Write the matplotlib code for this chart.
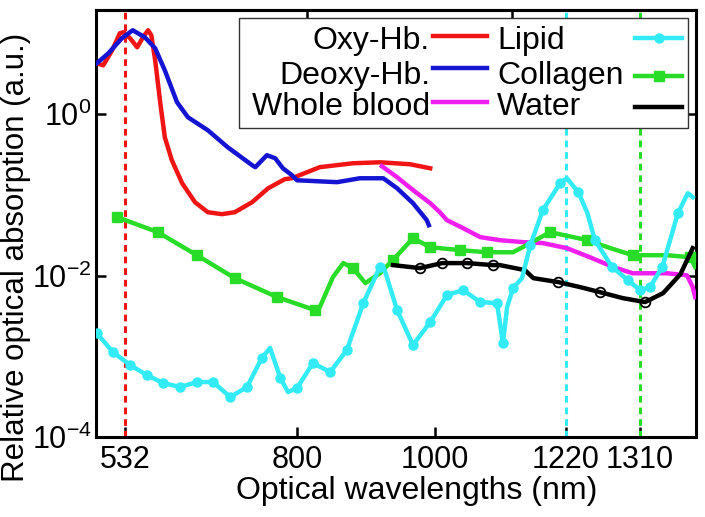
import numpy as np
import matplotlib
matplotlib.use("Agg")
import matplotlib.pyplot as plt
from matplotlib.ticker import NullLocator, FixedLocator
from matplotlib.patches import Rectangle
from matplotlib.lines import Line2D

plt.rcParams['font.family'] = ['Liberation Sans', 'DejaVu Sans']
plt.rcParams['mathtext.fontset'] = 'custom'
plt.rcParams['mathtext.rm'] = 'Liberation Sans'

# ---------------- data ----------------
oxy_nm = [488, 498, 512, 524, 530, 540, 551, 560, 568, 573, 579, 587, 594, 605, 621, 641, 661, 683, 703, 730,
          755, 781, 792, 833, 881, 920, 964, 993]
oxy_val = [4.28, 4.04, 6.21, 10.1, 10.4, 8.73, 6.76, 8.99, 11.0, 9.51, 4.67, 1.37, 0.519, 0.269, 0.140, 0.0813,
           0.0611, 0.0578, 0.0611, 0.0813, 0.121, 0.157, 0.161, 0.221, 0.247, 0.254, 0.240, 0.214]

deoxy_nm = [488, 506, 527, 544, 563, 579, 594, 613, 630, 661, 692, 730, 735, 753, 766, 778, 792, 800, 858, 891,
            925, 945, 968, 988, 991]
deoxy_val = [4.28, 5.69, 8.73, 11.0, 8.99, 6.57, 3.51, 1.41, 0.918, 0.634, 0.390, 0.234, 0.221, 0.311, 0.285,
             0.214, 0.176, 0.152, 0.144, 0.161, 0.161, 0.121, 0.0791, 0.0487, 0.0422]

blood_nm = [923, 945, 968, 993, 1008, 1020, 1047, 1076, 1109, 1148, 1181, 1221, 1249, 1277, 1301, 1343, 1367,
            1374, 1377]
blood_val = [0.227, 0.166, 0.115, 0.0791, 0.0611, 0.0487, 0.0388, 0.0300, 0.0275, 0.0260, 0.0253, 0.0219,
             0.0169, 0.0128, 0.0107, 0.0107, 0.0101, 0.00721, 0.00542]

collagen_nm = [520, 583, 644, 703, 769, 826, 833, 852, 867, 881, 899, 920, 939, 968, 993, 1042, 1087, 1131,
               1160, 1193, 1246, 1274, 1301, 1343, 1371, 1377]
collagen_val = [0.0530, 0.0346, 0.0179, 0.00931, 0.00542, 0.00374, 0.00407, 0.00958, 0.0143, 0.0124, 0.00808,
                0.0107, 0.0156, 0.0291, 0.0225, 0.0207, 0.0195, 0.0195, 0.0253, 0.0346, 0.0275, 0.0219, 0.0179,
                0.0179, 0.0169, 0.0128]
collagen_marks = [0, 1, 2, 3, 4, 5, 9, 12, 13, 14, 15, 16, 19, 20, 22, 24]

lipid_nm = [488, 513, 540, 566, 591, 618, 644, 669, 696, 722, 745, 758, 774, 786, 800, 823, 848, 872, 896,
            920, 927, 945, 968, 993, 1020, 1047, 1076, 1104, 1114, 1121, 1131, 1146, 1160, 1181, 1210, 1221,
            1235, 1246, 1255, 1276, 1295, 1310, 1322, 1337, 1356, 1368, 1374]
lipid_val = [0.00194, 0.00113, 0.000779, 0.000586, 0.000467, 0.000416, 0.000480, 0.000480, 0.000313,
             0.000416, 0.000951, 0.00127, 0.000538, 0.000361, 0.000404, 0.000825, 0.000638, 0.00119,
             0.00456, 0.0128, 0.0117, 0.00374, 0.00138, 0.00266, 0.00574, 0.00661, 0.00470, 0.00456,
             0.00146, 0.00407, 0.00700, 0.00931, 0.0239, 0.0648, 0.140, 0.161, 0.108, 0.0594, 0.0275,
             0.0128, 0.00880, 0.00661, 0.00721, 0.0128, 0.0594, 0.105, 0.0938]
lipid_skip = [11, 13, 20, 29, 31, 35, 37, 45, 46]

water_nm = [939, 978, 1012, 1054, 1097, 1109, 1151, 1165, 1207, 1237, 1261, 1289, 1316, 1338, 1359, 1374]
water_val = [0.0135, 0.0124, 0.0143, 0.0143, 0.0135, 0.0135, 0.0117, 0.00931, 0.00831, 0.00721, 0.00625,
             0.00526, 0.00470, 0.00607, 0.0104, 0.0219]
water_marks = [1, 2, 3, 4, 8, 10, 12]

laser_nm = [532, 1220, 1310]
xtick_nm = [532, 800, 1000, 1220, 1310]
xtick_labels = ['532', '800', '1000', '1220', '1310']
top_tick_nm = [800, 1104]
ytick_vals = [1e-4, 1e-2, 1e0]

legend_labels = ['Oxy-Hb.', 'Deoxy-Hb.', 'Whole blood', 'Lipid', 'Collagen', 'Water']

# ---------------- style ----------------
RED = '#f01414'
BLUE = '#1414d2'
MAGENTA = '#f01ef0'
CYAN = '#32ebf5'
GREEN = '#28dc28'
BLACK = '#000000'
FS = 22

# non-uniform wavelength axis (positions in axes fraction)
scale_nm = [480, 532, 800, 1000, 1220, 1310, 1400]
scale_pos = [-0.0073, 0.0483, 0.335, 0.565, 0.7833, 0.9067, 1.030]


def fwd(x):
    return np.interp(np.asarray(x, dtype=float), scale_nm, scale_pos)


def inv(u):
    return np.interp(np.asarray(u, dtype=float), scale_pos, scale_nm)


W, H = 705, 517
fig = plt.figure(figsize=(W / 100, H / 100), dpi=100)
L, R, T, B = 96, 696, 10, 437
ax = fig.add_axes([L / W, 1 - B / H, (R - L) / W, (B - T) / H])
ax.set_xscale('function', functions=(fwd, inv))
ax.set_yscale('log')

LW = 3.2
ax.plot(oxy_nm, oxy_val, color=RED, lw=LW, zorder=3)
ax.plot(deoxy_nm, deoxy_val, color=BLUE, lw=LW, zorder=3)
ax.plot(blood_nm, blood_val, color=MAGENTA, lw=LW, zorder=3)
ax.plot(collagen_nm, collagen_val, color=GREEN, lw=LW, marker='s', ms=7.5, markevery=collagen_marks, zorder=3)
ax.plot(water_nm, water_val, color=BLACK, lw=LW, marker='o', ms=7, mfc='none', mec=BLACK, mew=1.3,
        markevery=water_marks, zorder=3)
lipid_marks = [i for i in range(len(lipid_nm)) if i not in lipid_skip]
ax.plot(lipid_nm, lipid_val, color=CYAN, lw=LW, marker='o', ms=6.5, markevery=lipid_marks, zorder=4)

for wl, c in zip(laser_nm, [RED, CYAN, GREEN]):
    ax.axvline(wl, color=c, lw=2.2, ls=(0, (2.2, 1.6)), zorder=2)

ax.set_xlim(486.8, 1378)
ax.set_ylim(1e-4, 19.6)
ax.xaxis.set_major_locator(FixedLocator(xtick_nm))
ax.set_xticklabels(xtick_labels)
ax.xaxis.set_minor_locator(NullLocator())
ax.yaxis.set_major_locator(FixedLocator(ytick_vals))
ax.yaxis.set_minor_locator(NullLocator())
ax.tick_params(axis='both', direction='in', length=7, width=1.8, labelsize=FS)
ax.tick_params(axis='x', pad=6)
ax.tick_params(axis='y', right=True, pad=3)
for s in ax.spines.values():
    s.set_linewidth(2.2)

sec = ax.secondary_xaxis('top')
sec.set_xticks(top_tick_nm)
sec.set_xticklabels([])
sec.tick_params(direction='in', length=7, width=1.8)
sec.spines['top'].set_linewidth(2.2)

ax.set_xlabel('Optical wavelengths (nm)', fontsize=FS + 1)
ax.xaxis.set_label_coords(0.535, -0.092)
ax.set_ylabel('Relative optical absorption (a.u.)', fontsize=FS + 0.5)
ax.yaxis.set_label_coords(-0.108, 0.42)


# ---------------- manual legend (pixel layout converted to axes fraction) ----------------
def ax_x(px):
    return (px - L) / (R - L)


def ax_y(py):
    return 1 - (py - T) / (B - T)


ax.add_patch(Rectangle((ax_x(239), ax_y(128)), ax_x(688) - ax_x(239), ax_y(18) - ax_y(128),
                       transform=ax.transAxes, facecolor='white', edgecolor='#333333', lw=1.0, zorder=10))
baselines = [49, 84, 115]
col1_h = [36, 68, 102]
col2_h = [38, 76, 107]
col1_colors = [RED, BLUE, MAGENTA]
for i in range(3):
    ax.text(ax_x(430), ax_y(baselines[i]), legend_labels[i], transform=ax.transAxes, ha='right',
            va='baseline', fontsize=FS + 1, zorder=11)
    ax.add_line(Line2D([ax_x(433), ax_x(487)], [ax_y(col1_h[i])] * 2, transform=ax.transAxes,
                       color=col1_colors[i], lw=LW, zorder=11))
    ax.text(ax_x(497), ax_y(baselines[i]), legend_labels[i + 3], transform=ax.transAxes, ha='left',
            va='baseline', fontsize=FS + 1, zorder=11)
col2_styles = [dict(color=CYAN, marker='o', ms=6.5), dict(color=GREEN, marker='s', ms=7),
               dict(color=BLACK)]
for i in range(3):
    ax.add_line(Line2D([ax_x(635), ax_x(658.5), ax_x(682)], [ax_y(col2_h[i])] * 3, transform=ax.transAxes,
                       lw=LW, markevery=[1], zorder=11, **col2_styles[i]))

fig.savefig('out.png', dpi=100)
